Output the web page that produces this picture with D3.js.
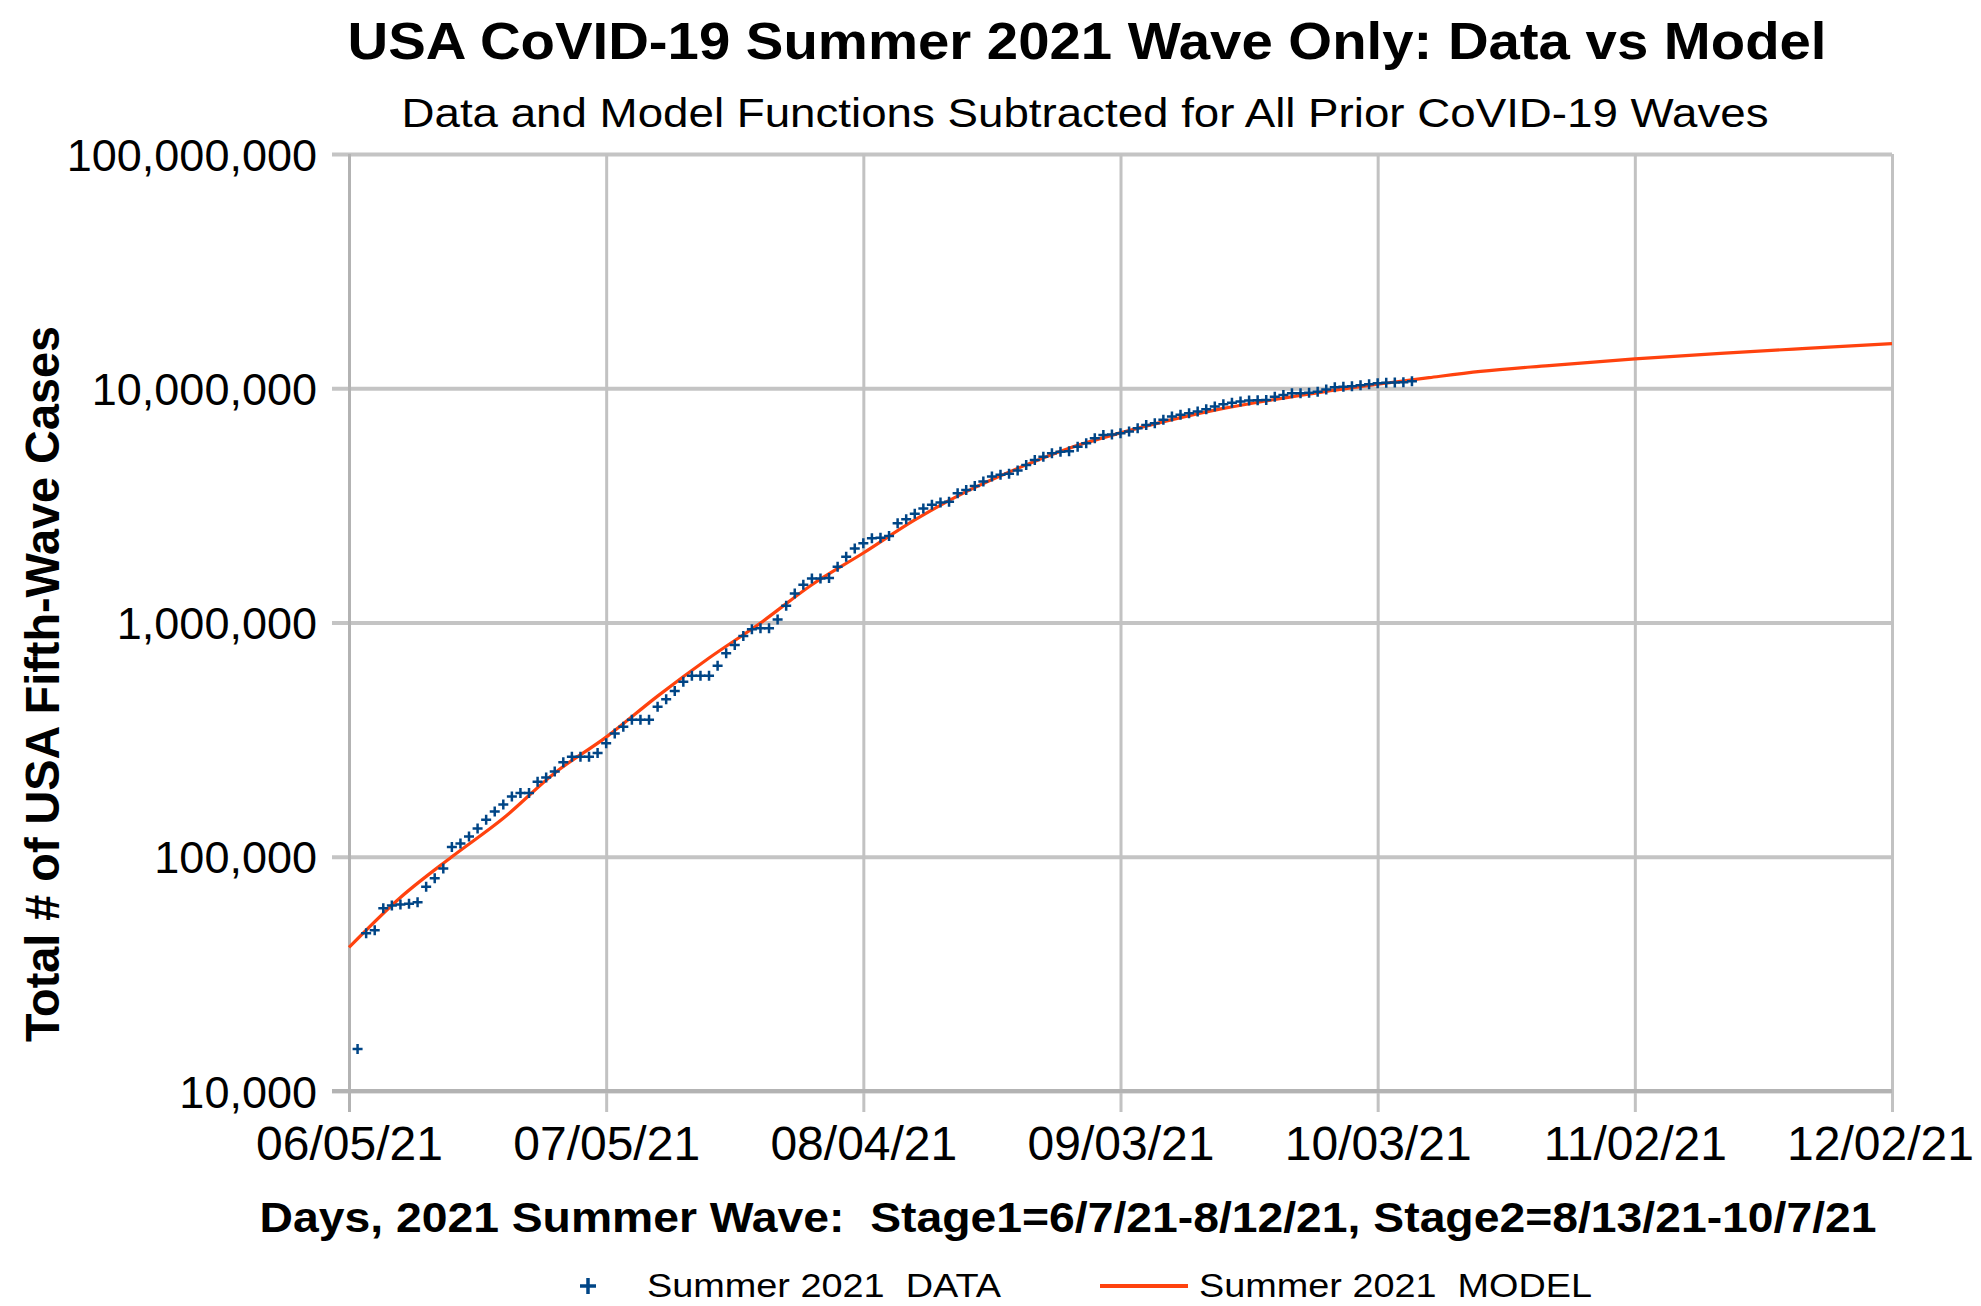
<!DOCTYPE html>
<html>
<head>
<meta charset="utf-8">
<script src="https://cdn.jsdelivr.net/npm/d3@7"></script>
<style>
  body { margin: 0; background: #fff; }
  text { font-family: "Liberation Sans", Arial, sans-serif; fill: #000; }
</style>
</head>
<body>
<div id="chart"></div>
<script>
'use strict';

// daily cumulative cases, first point is 06/06/21
const dataStart = '2021-06-06';
const dataCases = [
    15100, 47100, 48600, 60300, 62000, 62500, 63000, 64000, 74500, 81000,
    89000, 110000, 114000, 122000, 132000, 144000, 156000, 167000, 181000, 187000,
    187000, 209000, 218000, 231000, 253000, 267000, 267000, 267000, 277000, 305000,
    336000, 359000, 384000, 384000, 384000, 437000, 470000, 510000, 559000, 593000,
    593000, 593000, 654000, 739000, 802000, 876000, 935000, 944000, 944000, 1030000,
    1180000, 1330000, 1450000, 1540000, 1540000, 1550000, 1730000, 1910000, 2070000, 2180000,
    2290000, 2300000, 2340000, 2650000, 2760000, 2910000, 3070000, 3180000, 3250000, 3280000,
    3560000, 3680000, 3830000, 4000000, 4200000, 4270000, 4310000, 4450000, 4700000, 4940000,
    5100000, 5280000, 5360000, 5380000, 5630000, 5820000, 6110000, 6310000, 6350000, 6420000,
    6530000, 6750000, 6970000, 7090000, 7330000, 7570000, 7700000, 7820000, 7950000, 8130000,
    8350000, 8550000, 8680000, 8770000, 8860000, 8880000, 8910000, 9200000, 9360000, 9510000,
    9530000, 9570000, 9660000, 9890000, 10100000, 10150000, 10200000, 10300000, 10400000, 10500000,
    10550000, 10570000, 10600000, 10700000
];

// model curve, days counted from 06/05/21
const modelDays = [0, 6, 12, 18, 24, 30, 36, 42, 48, 54, 60, 66, 72, 78, 84, 90, 96, 102,
    108, 114, 120, 126, 132, 140, 150, 160, 170, 180];
const modelCases = [41000, 67000, 100000, 146000, 228000, 324000, 485000, 705000, 995000,
    1450000, 1980000, 2740000, 3620000, 4550000, 5550000, 6450000, 7350000, 8200000,
    8950000, 9700000, 10400000, 11100000, 11800000, 12500000, 13350000, 14100000, 14800000, 15500000];

const xTickDates = ['2021-06-05', '2021-07-05', '2021-08-04', '2021-09-03', '2021-10-03', '2021-11-02', '2021-12-02'];
const yTicks = [10000, 100000, 1000000, 10000000, 100000000];

const title = 'USA CoVID-19 Summer 2021 Wave Only: Data vs Model';
const subtitle = 'Data and Model Functions Subtracted for All Prior CoVID-19 Waves';
const xTitle = 'Days, 2021 Summer Wave:  Stage1=6/7/21-8/12/21, Stage2=8/13/21-10/7/21';
const yTitle = 'Total # of USA Fifth-Wave Cases';
const legendNames = ['Summer 2021  DATA', 'Summer 2021  MODEL'];

const dataColor = '#004586';
const modelColor = '#ff420e';

const W = 1981, H = 1306;
const margin = {top: 154, left: 349};
const width = 1543, height = 937;

const parse = d3.utcParse('%Y-%m-%d');
const day0 = parse('2021-06-05');

const svg = d3.select('#chart').append('svg')
    .attr('width', W)
    .attr('height', H);

const x = d3.scaleUtc()
    .domain([parse(xTickDates[0]), parse(xTickDates[xTickDates.length - 1])])
    .range([0, width]);
const y = d3.scaleLog()
    .domain([1e4, 1e8])
    .range([height, 0]);

const g = svg.append('g')
    .attr('transform', 'translate(' + margin.left + ',' + margin.top + ')');

// horizontal grid + y labels
const yAxis = g.append('g')
    .call(d3.axisLeft(y).tickValues(yTicks).tickFormat(d3.format(',')).tickSize(-width));
yAxis.select('.domain').remove();
yAxis.selectAll('line')
    .attr('x1', -17)
    .attr('stroke', '#c4c4c4')
    .attr('stroke-width', 4);
yAxis.selectAll('text')
    .attr('x', -32)
    .attr('dy', '0.36em')
    .style('font-size', '45px')
    .style('font-family', '"Liberation Sans", Arial, sans-serif')
    .style('fill', '#000');

// vertical grid + x labels
const xAxis = g.append('g')
    .attr('transform', 'translate(0,' + height + ')')
    .call(d3.axisBottom(x).tickValues(xTickDates.map(parse))
        .tickFormat(d3.utcFormat('%m/%d/%y')).tickSize(-height));
xAxis.select('.domain').remove();
xAxis.selectAll('line')
    .attr('y1', 21)
    .attr('stroke', (d, i) => i === 0 ? '#b3b3b3' : '#c2c2c2')
    .attr('stroke-width', 3);
xAxis.selectAll('text')
    .attr('y', 69)
    .attr('dy', null)
    .attr('x', (d, i) => i === xTickDates.length - 1 ? -12 : 0)
    .style('font-size', '48px')
    .style('font-family', '"Liberation Sans", Arial, sans-serif')
    .style('fill', '#000');

// bottom axis line
g.append('line')
    .attr('x1', -17).attr('x2', width)
    .attr('y1', y(1e4)).attr('y2', y(1e4))
    .attr('stroke', '#b3b3b3')
    .attr('stroke-width', 4);

// model line
const modelPts = modelDays.map((d, i) => ({date: d3.utcDay.offset(day0, d), v: modelCases[i]}));
const line = d3.line()
    .x(d => x(d.date))
    .y(d => y(d.v))
    .curve(d3.curveMonotoneX);
g.append('path')
    .datum(modelPts)
    .attr('d', line)
    .attr('fill', 'none')
    .attr('stroke', modelColor)
    .attr('stroke-width', 3.2);

// data points as small plus marks
const start = parse(dataStart);
const dataPts = dataCases.map((v, i) => ({date: d3.utcDay.offset(start, i), v: v}));
const plus = 'M-5,0H5M0,-5V5';
g.selectAll('.pt')
    .data(dataPts)
    .enter().append('path')
    .attr('class', 'pt')
    .attr('d', plus)
    .attr('transform', d => 'translate(' + x(d.date) + ',' + y(d.v) + ')')
    .attr('stroke', dataColor)
    .attr('stroke-width', 2.5)
    .attr('fill', 'none');

// titles
svg.append('text')
    .attr('x', 1087).attr('y', 59)
    .attr('text-anchor', 'middle')
    .attr('textLength', 1479)
    .attr('lengthAdjust', 'spacingAndGlyphs')
    .style('font-size', '52px')
    .style('font-weight', 'bold')
    .text(title);

svg.append('text')
    .attr('x', 1085).attr('y', 127)
    .attr('text-anchor', 'middle')
    .attr('textLength', 1367)
    .attr('lengthAdjust', 'spacingAndGlyphs')
    .style('font-size', '40px')
    .text(subtitle);

svg.append('text')
    .attr('x', 1068).attr('y', 1232)
    .attr('text-anchor', 'middle')
    .attr('textLength', 1617)
    .attr('lengthAdjust', 'spacingAndGlyphs')
    .style('font-size', '42px')
    .style('font-weight', 'bold')
    .style('white-space', 'pre')
    .text(xTitle);

svg.append('text')
    .attr('transform', 'translate(59,684) rotate(-90)')
    .attr('text-anchor', 'middle')
    .attr('textLength', 716)
    .attr('lengthAdjust', 'spacingAndGlyphs')
    .style('font-size', '49px')
    .style('font-weight', 'bold')
    .text(yTitle);

// legend
const legend = svg.append('g');
legend.append('path')
    .attr('d', 'M-8,0H8M0,-8V8')
    .attr('transform', 'translate(588,1286)')
    .attr('stroke', dataColor)
    .attr('stroke-width', 3.5);
legend.append('text')
    .attr('x', 647).attr('y', 1297)
    .attr('textLength', 354)
    .attr('lengthAdjust', 'spacingAndGlyphs')
    .style('font-size', '34px')
    .style('white-space', 'pre')
    .text(legendNames[0]);
legend.append('line')
    .attr('x1', 1100).attr('x2', 1188)
    .attr('y1', 1286).attr('y2', 1286)
    .attr('stroke', modelColor)
    .attr('stroke-width', 4);
legend.append('text')
    .attr('x', 1199).attr('y', 1297)
    .attr('textLength', 393)
    .attr('lengthAdjust', 'spacingAndGlyphs')
    .style('font-size', '34px')
    .style('white-space', 'pre')
    .text(legendNames[1]);
</script>
</body>
</html>
